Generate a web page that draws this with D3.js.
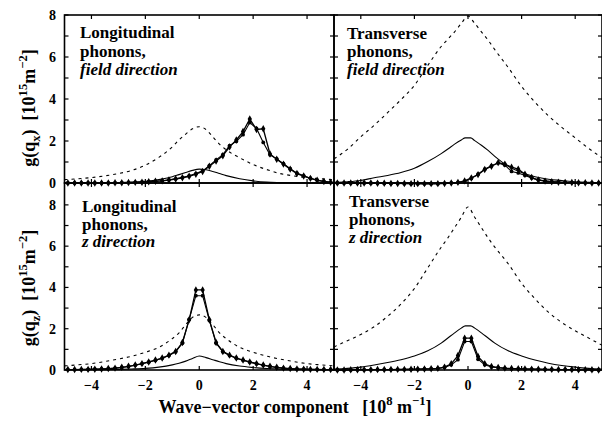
<!DOCTYPE html>
<html><head><meta charset="utf-8"><script src="https://cdn.jsdelivr.net/npm/d3@7"></script></head>
<body style="margin:0">
<svg id="chart" width="602" height="429"></svg>
<script>
// ---------- DATA ----------
const xTicks = [-4, -2, 0, 2, 4];
const yTicks = [0, 2, 4, 6, 8];
const yMinorTicks = [0, 1, 2, 3, 4, 5, 6, 7, 8];

// theory-curve abscissae
const qTheory = [-5, -4.5, -4, -3.5, -3, -2.5, -2, -1.5, -1, -0.75, -0.5, -0.25, 0,
                 0.25, 0.5, 0.75, 1, 1.5, 2, 2.5, 3, 3.5, 4, 4.5, 5];
const qTheoryFlat = [-5, -4.5, -4, -3.5, -3, -2.5, -2, -1.5, -1, -0.75, -0.5, -0.25, -0.1, 0.1,
                     0.25, 0.5, 0.75, 1, 1.5, 2, 2.5, 3, 3.5, 4, 4.5, 5];
// data abscissae
const qGrid = [-4.875, -4.625, -4.375, -4.125, -3.875, -3.625, -3.375, -3.125, -2.875, -2.625,
               -2.375, -2.125, -1.875, -1.625, -1.375, -1.125, -0.875, -0.625, -0.375, -0.125,
               0.125, 0.375, 0.625, 0.875, 1.125, 1.375, 1.625, 1.875, 2.125, 2.375,
               2.625, 2.875, 3.125, 3.375, 3.625, 3.875, 4.125, 4.375, 4.625, 4.875];

// Longitudinal, field direction
const lfDashed = [0.16, 0.2, 0.26, 0.34, 0.45, 0.6, 0.85, 1.22, 1.72, 2.05, 2.33, 2.58, 2.68,
                  2.55, 2.2, 1.85, 1.58, 1.2, 0.88, 0.64, 0.45, 0.34, 0.26, 0.2, 0.16];
const lfSolid = [0, 0, 0.005, 0.01, 0.02, 0.04, 0.08, 0.16, 0.3, 0.4, 0.5, 0.6, 0.66,
                 0.63, 0.55, 0.45, 0.35, 0.2, 0.1, 0.04, 0.02, 0.01, 0, 0, 0];
const lfDataA = [0, 0, 0, 0, 0, 0, 0, 0.01, 0.01, 0.02, 0.03, 0.04, 0.06, 0.08, 0.1, 0.14, 0.19, 0.25, 0.32, 0.42,
                 0.55, 0.8, 1.05, 1.3, 1.72, 2.05, 2.45, 3.05, 2.55, 2.58, 1.38, 1.13, 0.9, 0.66, 0.45, 0.33, 0.22, 0.13, 0.07, 0.03];
const lfDataB = [0, 0, 0, 0, 0, 0, 0.01, 0.01, 0.02, 0.02, 0.03, 0.05, 0.06, 0.08, 0.11, 0.15, 0.2, 0.26, 0.34, 0.45,
                 0.58, 0.83, 1.1, 1.35, 1.78, 1.98, 2.3, 2.88, 2.6, 1.93, 1.34, 1.15, 0.92, 0.68, 0.47, 0.34, 0.23, 0.14, 0.08, 0.04];

// Transverse, field direction
const tfDashed = [1.15, 1.6, 2.2, 2.75, 3.35, 3.97, 4.65, 5.6, 6.5, 6.85, 7.2, 7.6, 7.95,
                  7.6, 7.2, 6.8, 6.35, 5.5, 4.6, 3.85, 3.2, 2.65, 2.15, 1.65, 1.2];
const tfSolid = [0.03, 0.06, 0.12, 0.25, 0.36, 0.5, 0.7, 1.02, 1.4, 1.62, 1.85, 2.05, 2.15, 2.15,
                 2.02, 1.8, 1.55, 1.27, 0.8, 0.5, 0.3, 0.18, 0.12, 0.06, 0.03, 0.01];
const tfDataA = [0, 0, 0, 0, 0, 0, -0.01, -0.01, -0.02, -0.02, -0.02, -0.03, -0.03, -0.03, -0.03, -0.03, -0.02, 0.0, 0.03, 0.1,
                 0.24, 0.4, 0.64, 0.8, 0.97, 0.9, 0.75, 0.66, 0.42, 0.26, 0.14, 0.09, 0.06, 0.04, 0.03, 0.02, 0.01, 0.01, 0, 0];
const tfDataB = [0, 0, 0, 0, 0, -0.01, -0.01, -0.02, -0.02, -0.02, -0.03, -0.03, -0.03, -0.04, -0.04, -0.03, -0.02, 0.01, 0.02, 0.08,
                 0.22, 0.42, 0.66, 0.82, 0.95, 0.85, 0.55, 0.48, 0.36, 0.24, 0.15, 0.1, 0.07, 0.05, 0.03, 0.02, 0.02, 0.01, 0.01, 0];

// Longitudinal, z direction
const lzDashed = [0.2, 0.25, 0.31, 0.41, 0.53, 0.67, 0.86, 1.1, 1.52, 1.8, 2.2, 2.55, 2.67,
                  2.55, 2.2, 1.8, 1.52, 1.1, 0.86, 0.67, 0.53, 0.41, 0.31, 0.25, 0.2];
const lzSolid = [0.01, 0.01, 0.015, 0.02, 0.03, 0.05, 0.08, 0.14, 0.25, 0.33, 0.43, 0.56, 0.68,
                 0.6, 0.5, 0.4, 0.31, 0.19, 0.12, 0.07, 0.04, 0.03, 0.02, 0.01, 0.01];
const lzDataA = [0.02, 0.02, 0.03, 0.03, 0.04, 0.05, 0.07, 0.09, 0.13, 0.18, 0.24, 0.31, 0.39, 0.48, 0.58, 0.72, 0.9, 1.33, 2.43, 3.88,
                 3.88, 2.43, 1.33, 0.9, 0.72, 0.58, 0.48, 0.39, 0.31, 0.24, 0.18, 0.13, 0.09, 0.07, 0.05, 0.04, 0.03, 0.03, 0.02, 0.02];
const lzDataB = [0.02, 0.02, 0.02, 0.03, 0.04, 0.05, 0.06, 0.09, 0.12, 0.17, 0.23, 0.3, 0.38, 0.47, 0.57, 0.7, 0.88, 1.3, 2.45, 3.6,
                 3.6, 2.4, 1.3, 0.88, 0.7, 0.57, 0.47, 0.38, 0.3, 0.23, 0.17, 0.12, 0.09, 0.06, 0.05, 0.04, 0.03, 0.02, 0.02, 0.02];

// Transverse, z direction
const tzDashed = [1.12, 1.42, 1.72, 2.1, 2.6, 3.2, 3.95, 4.95, 5.95, 6.4, 6.9, 7.4, 7.9,
                  7.4, 6.9, 6.4, 5.95, 5.15, 4.2, 3.45, 2.8, 2.3, 1.9, 1.55, 1.2];
const tzSolid = [0.04, 0.08, 0.14, 0.24, 0.36, 0.5, 0.68, 0.93, 1.3, 1.55, 1.8, 2.03, 2.14, 2.14,
                 2.03, 1.8, 1.55, 1.3, 0.93, 0.68, 0.48, 0.33, 0.22, 0.14, 0.08, 0.04];
const tzDataA = [0, 0, 0.01, 0.01, 0.01, 0.01, 0.02, 0.02, 0.02, 0.03, 0.03, 0.04, 0.04, 0.05, 0.06, 0.08, 0.14, 0.3, 0.7, 1.54,
                 1.54, 0.65, 0.3, 0.17, 0.12, 0.09, 0.07, 0.06, 0.05, 0.04, 0.04, 0.03, 0.03, 0.02, 0.02, 0.02, 0.01, 0.01, 0.01, 0];
const tzDataB = [0, 0, 0, 0.01, 0.01, 0.01, 0.01, 0.02, 0.02, 0.02, 0.03, 0.03, 0.04, 0.05, 0.06, 0.07, 0.12, 0.25, 0.5, 1.38,
                 1.38, 0.52, 0.25, 0.15, 0.11, 0.08, 0.06, 0.05, 0.04, 0.04, 0.03, 0.03, 0.02, 0.02, 0.02, 0.01, 0.01, 0.01, 0, 0];

const titleLF = [["Longitudinal", false], ["phonons,", false], ["field direction", true]];
const titleTF = [["Transverse", false], ["phonons,", false], ["field direction", true]];
const titleLZ = [["Longitudinal", false], ["phonons,", false], ["z direction", true]];
const titleTZ = [["Transverse", false], ["phonons,", false], ["z direction", true]];

// ---------- LAYOUT ----------
const svg = d3.select("#chart");
function txt(sel, size) {
  return sel.append("text")
    .attr("font-family", "Times New Roman").attr("font-weight", "bold").attr("font-size", size)
    .style("font-family", "Times New Roman").style("font-weight", "bold")
    .style("font-size", size + "px").attr("fill", "#000");
}
const xL = d3.scaleLinear().domain([-5, 5]).range([64.5, 334]);
const xR = d3.scaleLinear().domain([-5, 5]).range([334, 602]);
const yT = d3.scaleLinear().domain([0, 8]).range([183, 15]);
const yB = d3.scaleLinear().domain([0, 9.06]).range([370, 183]);

const panels = [
  {x: xL, y: yT, dashed: lfDashed, solid: lfSolid, solidQ: qTheory, A: lfDataA, B: lfDataB, title: titleLF, tx: 80, ty: 38, dy: 18.5},
  {x: xR, y: yT, dashed: tfDashed, solid: tfSolid, solidQ: qTheoryFlat, A: tfDataA, B: tfDataB, title: titleTF, tx: 347, ty: 39, dy: 18},
  {x: xL, y: yB, dashed: lzDashed, solid: lzSolid, solidQ: qTheory, A: lzDataA, B: lzDataB, title: titleLZ, tx: 82, ty: 212, dy: 17.5},
  {x: xR, y: yB, dashed: tzDashed, solid: tzSolid, solidQ: qTheoryFlat, A: tzDataA, B: tzDataB, title: titleTZ, tx: 349, ty: 207, dy: 18}
];

panels.forEach(p => {
  p.title.forEach((l, k) => {
    txt(svg, 17).attr("x", p.tx).attr("y", p.ty + k * p.dy)
      .style("font-style", l[1] ? "italic" : "normal").text(l[0]);
  });
});
[yT, yB].forEach(ys => {
  yTicks.forEach(t => {
    txt(svg, 14).attr("x", 56).attr("y", ys(t) + 5).attr("text-anchor", "end").text(t);
  });
});
[xL, xR].forEach(xs => {
  xTicks.forEach(t => {
    txt(svg, 14).attr("x", xs(t)).attr("y", 390)
      .attr("text-anchor", "middle").text(t < 0 ? "\u2212" + Math.abs(t) : t);
  });
});
function rich(sel, segs, size) {
  let cur = 0;
  segs.forEach(s => {
    const target = s.sup ? -size * 0.42 : s.sub ? size * 0.28 : 0;
    sel.append("tspan").attr("dy", target - cur)
      .style("font-size", ((s.sup || s.sub) ? size * 0.7 : size) + "px").text(s.t);
    cur = target;
  });
}
const yt1 = txt(svg, 18).attr("transform", "translate(35,108) rotate(-90)").attr("text-anchor", "middle");
rich(yt1, [{t: "g(q"}, {t: "x", sub: true}, {t: ")\u00a0\u00a0[10"}, {t: "15", sup: true}, {t: "m"}, {t: "\u22122", sup: true}, {t: "]"}], 18);
const yt2 = txt(svg, 18).attr("transform", "translate(35,288) rotate(-90)").attr("text-anchor", "middle");
rich(yt2, [{t: "g(q"}, {t: "z", sub: true}, {t: ")\u00a0\u00a0[10"}, {t: "15", sup: true}, {t: "m"}, {t: "\u22122", sup: true}, {t: "]"}], 18);
const xt = txt(svg, 18).attr("x", 295).attr("y", 413).attr("text-anchor", "middle");
rich(xt, [{t: "Wave\u2212vector component\u00a0\u00a0\u00a0[10"}, {t: "8", sup: true}, {t: "\u00a0m"}, {t: "\u22121", sup: true}, {t: "]"}], 18);

// marks
panels.forEach(p => {
  const [x0, x1] = p.x.range();
  const [y0, y1] = p.y.range();
  const g = svg.append("g");

  const lineT = d3.line().x(d => p.x(d[0])).y(d => p.y(d[1])).curve(d3.curveMonotoneX);
  const lineD = d3.line().x(d => p.x(d[0])).y(d => p.y(d[1]));

  g.append("path").datum(d3.zip(qTheory, p.dashed)).attr("d", lineT)
    .attr("fill", "none").attr("stroke", "#000").attr("stroke-width", 1.1).attr("stroke-dasharray", "3,4");
  g.append("path").datum(d3.zip(p.solidQ, p.solid)).attr("d", lineT)
    .attr("fill", "none").attr("stroke", "#000").attr("stroke-width", 1.1);

  const dA = d3.zip(qGrid, p.A), dB = d3.zip(qGrid, p.B);
  g.append("path").datum(dA).attr("d", lineD).attr("fill", "none").attr("stroke", "#000").attr("stroke-width", 1.3);
  g.append("path").datum(dB).attr("d", lineD).attr("fill", "none").attr("stroke", "#000").attr("stroke-width", 1.1);
  g.selectAll(".ma").data(dA).join("path")
    .attr("transform", d => `translate(${p.x(d[0])},${p.y(d[1])})`)
    .attr("d", d3.symbol(d3.symbolDiamond, 16)).attr("fill", "#000");
  g.selectAll(".mb").data(dB).join("circle")
    .attr("cx", d => p.x(d[0])).attr("cy", d => p.y(d[1])).attr("r", 1.9).attr("fill", "#000");

  const tk = g.append("g").attr("stroke", "#000").attr("stroke-width", 1.2);
  xTicks.forEach(t => {
    const xx = p.x(t);
    tk.append("line").attr("x1", xx).attr("x2", xx).attr("y1", y0).attr("y2", y0 - 4);
    tk.append("line").attr("x1", xx).attr("x2", xx).attr("y1", y1).attr("y2", y1 + 4);
  });
  yMinorTicks.forEach(t => {
    const yy = p.y(t);
    tk.append("line").attr("x1", x0).attr("x2", x0 + 4).attr("y1", yy).attr("y2", yy);
    tk.append("line").attr("x1", x1).attr("x2", x1 - 4).attr("y1", yy).attr("y2", yy);
  });

  g.append("rect").attr("x", x0).attr("y", y1).attr("width", x1 - x0).attr("height", y0 - y1)
    .attr("fill", "none").attr("stroke", "#000").attr("stroke-width", 1.6);
});
</script>
</body>
</html>
